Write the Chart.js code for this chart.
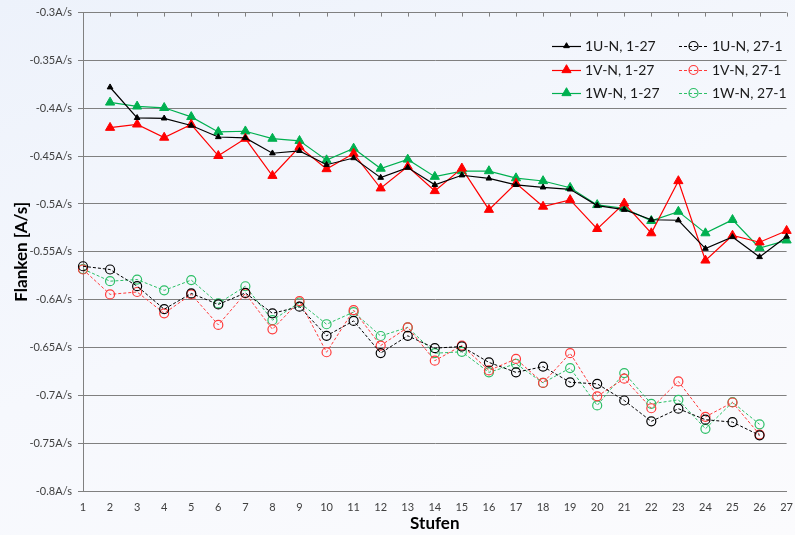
<!DOCTYPE html>
<html>
<head>
<meta charset="utf-8">
<script src="https://cdn.jsdelivr.net/npm/chart.js@4/dist/chart.umd.min.js"></script>
<style>
  html, body { margin: 0; padding: 0; }
  body { width: 795px; height: 535px; background: linear-gradient(160deg, #edf2fb 0%, #f6f8fd 50%, #fbfbfd 100%); }
  canvas { display: block; }
</style>
</head>
<body>
<canvas id="flanken_chart" width="795" height="535"></canvas>
<script>
// Stufen 1..27
const stufen = ['1','2','3','4','5','6','7','8','9','10','11','12','13','14','15','16','17','18','19','20','21','22','23','24','25','26','27'];

// aufwaerts 1-27 (start at Stufe 2)
const u_up = [null, -0.378, -0.410, -0.4105, -0.418, -0.430, -0.431, -0.447, -0.4445, -0.459, -0.452, -0.4725, -0.462, -0.480, -0.470, -0.4733, -0.480, -0.4826, -0.4847, -0.5017, -0.506, -0.5165, -0.517, -0.5467, -0.5345, -0.5554, -0.534];
const v_up = [null, -0.4203, -0.4168, -0.4306, -0.417, -0.4497, -0.4317, -0.4705, -0.4403, -0.4635, -0.4473, -0.4836, -0.461, -0.4864, -0.4628, -0.506, -0.4785, -0.5027, -0.4958, -0.526, -0.4993, -0.5305, -0.476, -0.559, -0.533, -0.540, -0.528];
const w_up = [null, -0.3939, -0.398, -0.3995, -0.409, -0.4247, -0.424, -0.4317, -0.434, -0.4542, -0.442, -0.463, -0.4535, -0.4715, -0.4656, -0.4656, -0.473, -0.476, -0.483, -0.501, -0.5045, -0.5176, -0.508, -0.5305, -0.5166, -0.546, -0.538];

// abwaerts 27-1 (ends at Stufe 26)
const u_down = [-0.5651, -0.5685, -0.5859, -0.610, -0.5935, -0.605, -0.593, -0.6143, -0.6074, -0.6378, -0.6222, -0.6558, -0.6378, -0.6507, -0.649, -0.6656, -0.676, -0.670, -0.6864, -0.688, -0.7054, -0.7272, -0.714, -0.7255, -0.728, -0.7418, null];
const v_down = [-0.5685, -0.5945, -0.592, -0.6143, -0.5945, -0.6264, -0.5935, -0.631, -0.6015, -0.655, -0.611, -0.648, -0.629, -0.6638, -0.648, -0.674, -0.662, -0.687, -0.656, -0.701, -0.6826, -0.7135, -0.6855, -0.7225, -0.7075, -0.741, null];
const w_down = [-0.568, -0.5807, -0.579, -0.5903, -0.5796, -0.604, -0.586, -0.6215, -0.603, -0.6257, -0.613, -0.638, -0.629, -0.656, -0.6545, -0.676, -0.667, -0.687, -0.6715, -0.7106, -0.6767, -0.7089, -0.7047, -0.735, -0.7072, -0.7303, null];

const y_min = -0.8;
const y_max = -0.3;
const y_step = 0.05;

const BLACK = '#000000';
const RED = '#ff0000';
const GREEN = '#00b050';
const RED_LIGHT = '#ff3a3a';
const GREEN_LIGHT = '#2cbf66';

function solid(label, data, color, r) {
    return {
        label: label, data: data,
        borderColor: color, backgroundColor: color,
        borderWidth: 1.2, pointStyle: 'triangle', pointRadius: r,
        pointBorderWidth: 1, pointBackgroundColor: color, pointBorderColor: color,
        tension: 0, spanGaps: false
    };
}

function dashed(label, data, color) {
    return {
        label: label, data: data,
        borderColor: color, backgroundColor: 'rgba(0,0,0,0)',
        borderWidth: 1, borderDash: [3, 2], pointStyle: 'circle', pointRadius: 4.5,
        pointBorderWidth: 1.2, pointBackgroundColor: 'rgba(0,0,0,0)', pointBorderColor: color,
        tension: 0, spanGaps: false
    };
}

const datasets = [
    solid('1U-N, 1-27', u_up, BLACK, 3.3),
    solid('1V-N, 1-27', v_up, RED, 5.3),
    solid('1W-N, 1-27', w_up, GREEN, 5.3),
    dashed('1U-N, 27-1', u_down, BLACK),
    dashed('1V-N, 27-1', v_down, RED_LIGHT),
    dashed('1W-N, 27-1', w_down, GREEN_LIGHT)
];

// tick marks pointing down from the top axis line, plus the two-column legend
const extras = {
    id: 'extras',
    afterDraw(chart) {
        const ctx = chart.ctx;
        const xs = chart.scales.x;
        const top = chart.chartArea.top;
        ctx.save();
        ctx.strokeStyle = '#808080';
        ctx.lineWidth = 1;
        ctx.beginPath();
        for (let i = 1; i < stufen.length; i++) {
            const px = Math.round(xs.getPixelForValue(i)) + 0.5;
            ctx.moveTo(px, top);
            ctx.lineTo(px, top + 4);
        }
        ctx.stroke();

        const cols = [552, 679];
        const rows = [46, 70, 93];
        const order = [[0, 3], [1, 4], [2, 5]];
        ctx.font = '14px Lato';
        ctx.textBaseline = 'middle';
        ctx.textAlign = 'left';
        for (let r = 0; r < 3; r++) {
            for (let c = 0; c < 2; c++) {
                const ds = datasets[order[r][c]];
                const x0 = cols[c], x1 = cols[c] + 29, y = rows[r];
                ctx.save();
                ctx.strokeStyle = ds.borderColor;
                ctx.lineWidth = ds.borderWidth;
                if (ds.borderDash) ctx.setLineDash(ds.borderDash);
                ctx.beginPath();
                ctx.moveTo(x0, y + 0.5);
                ctx.lineTo(x1, y + 0.5);
                ctx.stroke();
                ctx.restore();
                ctx.save();
                ctx.fillStyle = ds.pointBackgroundColor;
                ctx.strokeStyle = ds.pointBorderColor;
                ctx.lineWidth = ds.pointBorderWidth;
                Chart.helpers.drawPoint(ctx, {
                    pointStyle: ds.pointStyle,
                    radius: ds.pointRadius,
                    rotation: 0,
                    borderWidth: ds.pointBorderWidth
                }, (x0 + x1) / 2, y);
                ctx.restore();
                ctx.fillStyle = '#1a1a1a';
                ctx.fillText(ds.label, x1 + 4, y);
            }
        }
        ctx.restore();
    }
};

window.onload = function() {
    const ctx = document.getElementById('flanken_chart').getContext('2d');
    new Chart(ctx, {
        type: 'line',
        data: { labels: stufen, datasets: datasets },
        options: {
            responsive: false,
            animation: false,
            layout: { padding: { top: 10, right: 6, left: 0, bottom: 0 } },
            plugins: { legend: { display: false }, tooltip: { enabled: false } },
            scales: {
                x: {
                    type: 'category',
                    offset: false,
                    grid: { display: false },
                    border: { color: '#808080', width: 1 },
                    ticks: { color: '#404040', font: { family: 'Lato', size: 11 }, padding: 2, maxRotation: 0, autoSkip: false },
                    title: { display: true, text: 'Stufen', color: '#000', font: { family: 'Lato', size: 17, weight: 'bold' }, padding: { top: 0, bottom: 1 } },
                    afterFit: function(s) { s.height = 44; }
                },
                y: {
                    min: y_min, max: y_max,
                    grid: { color: '#808080', lineWidth: 1, tickLength: 5, drawTicks: true },
                    border: { color: '#808080', width: 1 },
                    ticks: {
                        stepSize: y_step,
                        color: '#404040',
                        padding: 6,
                        font: { family: 'Lato', size: 11 },
                        callback: function(v) { return (Math.round(v * 100) / 100) + 'A/s'; }
                    },
                    title: { display: true, text: 'Flanken [A/s]', color: '#000', font: { family: 'Lato', size: 17, weight: 'bold' }, padding: { top: 11, bottom: 0 } },
                    afterFit: function(s) { s.width = 83; }
                }
            }
        },
        plugins: [extras]
    });
};
</script>
</body>
</html>
